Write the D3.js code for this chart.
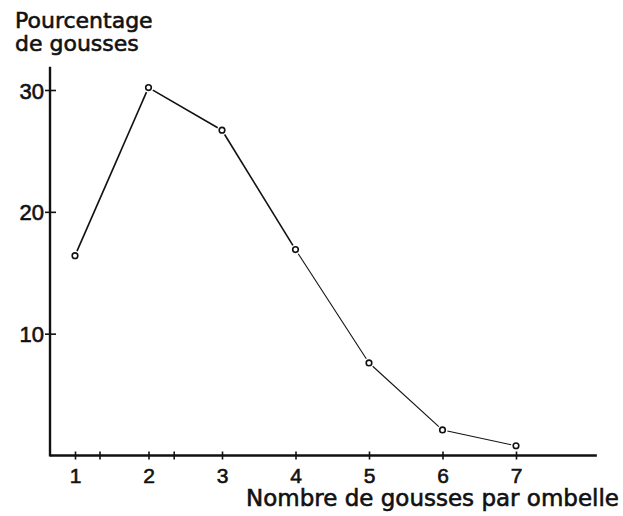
<!DOCTYPE html>
<html>
<head>
<meta charset="utf-8">
<script src="https://cdn.jsdelivr.net/npm/d3@7"></script>
<style>
  body { margin: 0; background: #fff; }
  svg { display: block; }
  text { stroke: #111; stroke-width: 0.6px; }
</style>
</head>
<body>
<div id="chart"></div>
<script>
// gousses par ombelle (x) vs pourcentage de gousses (y)
const gousses = [1, 2, 3, 4, 5, 6, 7];
const pourcentage = [16.4, 30.2, 26.7, 16.9, 7.6, 2.1, 0.8];
const xTicks = [1, 2, 3, 4, 5, 6, 7];
const xMinorTicks = [1.34, 2.35];
const yTicks = [10, 20, 30];

const width = 623, height = 516;
const ink = "#111";

const svg = d3.select("#chart").append("svg")
  .attr("width", width)
  .attr("height", height)
  .style("font-family", "DejaVu Sans");

const x = d3.scaleLinear().domain([1, 7]).range([75, 516]);
const y = d3.scaleLinear().domain([0, 30]).range([455.5, 90]);

const xMin = 0.66, xMax = 8.1, yMax = 31.9;

// axes
const xAxis = svg.append("g")
  .attr("transform", "translate(0," + y(0) + ")")
  .call(d3.axisBottom(x).tickValues(xTicks).tickFormat(d3.format("d")));
xAxis.select(".domain").remove();
xAxis.selectAll(".tick line").attr("y1", -4).attr("y2", 4)
  .attr("stroke", ink).attr("stroke-width", 1.6);
xAxis.selectAll(".tick text")
  .attr("y", 27).attr("dy", null)
  .attr("fill", ink).style("font-size", "21px");

svg.append("g").selectAll("line")
  .data(xMinorTicks)
  .enter().append("line")
  .attr("x1", d => x(d)).attr("x2", d => x(d))
  .attr("y1", y(0) - 4).attr("y2", y(0) + 4)
  .attr("stroke", ink).attr("stroke-width", 1.6);

const yAxis = svg.append("g")
  .attr("transform", "translate(" + x(xMin) + ",0)")
  .call(d3.axisLeft(y).tickValues(yTicks).tickFormat(d3.format("d")));
yAxis.select(".domain").remove();
yAxis.selectAll(".tick line").attr("x1", -5).attr("x2", 6)
  .attr("stroke", ink).attr("stroke-width", 1.6);
yAxis.selectAll(".tick text")
  .attr("x", -6).attr("dy", null)
  .attr("y", 8)
  .attr("fill", ink).style("font-size", "22px");

svg.append("line")
  .attr("x1", x(xMin)).attr("x2", x(xMax))
  .attr("y1", y(0)).attr("y2", y(0))
  .attr("stroke", ink).attr("stroke-width", 2.4);
svg.append("line")
  .attr("x1", x(xMin)).attr("x2", x(xMin))
  .attr("y1", y(0) + 1).attr("y2", y(yMax))
  .attr("stroke", ink).attr("stroke-width", 2.4);

// line segments, stopping short of the circles
const pts = gousses.map((g, i) => [x(g), y(pourcentage[i])]);
const gap = 5;
const segs = d3.pairs(pts).map(([a, b]) => {
  const dx = b[0] - a[0], dy = b[1] - a[1];
  const len = Math.hypot(dx, dy);
  const ux = dx / len, uy = dy / len;
  return [a[0] + ux * gap, a[1] + uy * gap, b[0] - ux * gap, b[1] - uy * gap];
});

svg.append("g").selectAll("line")
  .data(segs)
  .enter().append("line")
  .attr("x1", d => d[0]).attr("y1", d => d[1])
  .attr("x2", d => d[2]).attr("y2", d => d[3])
  .attr("stroke", ink)
  .attr("stroke-width", (d, i) => i < 3 ? 1.6 : 1.1);

svg.append("g").selectAll("circle")
  .data(pourcentage)
  .enter().append("circle")
  .attr("cx", (d, i) => x(gousses[i]))
  .attr("cy", d => y(d))
  .attr("r", 2.8)
  .attr("fill", "#fff")
  .attr("stroke", ink)
  .attr("stroke-width", 1.6);

// titles
const yTitle = svg.append("text")
  .attr("x", 15)
  .attr("fill", ink)
  .style("font-size", "22px");
yTitle.append("tspan").attr("x", 15).attr("y", 28).text("Pourcentage");
yTitle.append("tspan").attr("x", 15).attr("y", 51).text("de gousses");

svg.append("text")
  .attr("x", 619)
  .attr("y", 506)
  .attr("text-anchor", "end")
  .attr("fill", ink)
  .style("font-size", "23px")
  .text("Nombre de gousses par ombelle");
</script>
</body>
</html>
